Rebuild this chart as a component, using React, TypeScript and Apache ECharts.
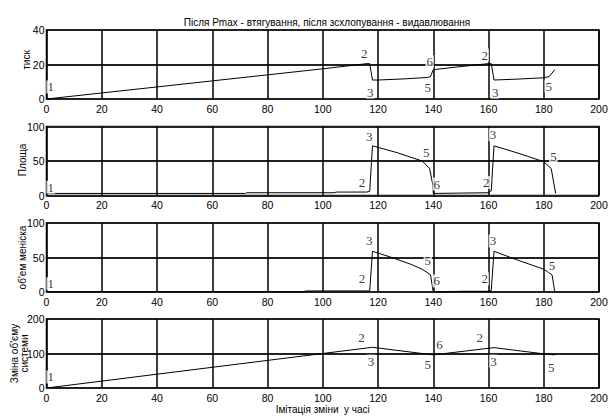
import React, { useEffect, useRef } from "react";
import * as echarts from "echarts";

const titleText = "Після Pmax - втягування, після зсхлопування - видавлювання";
const xAxisTitle = "Імітація зміни  у часі";
const yNames = ["тиск", "Площа", "об'ем меніска", "Зміна об'єму\nсистеми"];
const yMax = [40, 100, 100, 200];
const yStep = [20, 50, 50, 100];

const pressure = [
  [0, 0], [20, 3.5], [40, 7], [60, 10.5], [80, 14], [100, 17.5], [116, 20.5], [117, 20.5],
  [118, 11], [120, 11], [130, 11.7], [138, 12.5], [139, 13], [140, 17], [150, 18.8],
  [160, 20.5], [161, 20.5], [162, 11], [170, 11.5], [180, 12.3], [182, 13], [184, 17],
];
const area = [
  [0, 3], [72, 3], [72.5, 4], [104, 4], [105, 5], [116, 5], [117, 6], [118, 72],
  [127, 62], [136, 50], [138.7, 39], [139.9, 14], [140, 3], [150, 3.5], [160, 4],
  [161, 7], [162, 72], [171, 61], [180, 49], [182.7, 39], [184.3, 3],
];
const meniscus = [
  [0, 0.5], [93, 0.5], [94, 1.5], [117, 1.5], [118, 59], [125, 50], [132, 40],
  [136, 33], [139, 25], [140, 0], [150, 1], [160, 1], [161, 2], [162, 59],
  [170, 47], [180, 33], [183, 25], [184, 0],
];
const systemVol = [
  [0, 0], [118, 118], [140, 96], [162, 117], [180, 99], [184, 96],
];

const labels1 = [
  [1.5, 7, "1"], [115, 26.5, "2"], [117.2, 4, "3"], [138.7, 21.6, "6"], [138, 6.5, "5"],
  [158.6, 25.5, "2"], [162.4, 4, "3"], [181.8, 7.5, "5"],
];
const labels2 = [
  [1.5, 12, "1"], [114.2, 19.5, "2"], [116.8, 86, "3"], [137.5, 62, "5"], [141.3, 16.6, "6"],
  [159.2, 19, "2"], [161.6, 88, "3"], [183.5, 56, "5"],
];
const labels3 = [
  [1.5, 12, "1"], [114.2, 19, "2"], [116.8, 74, "3"], [138, 45, "5"], [141.3, 16, "6"],
  [158.6, 19, "2"], [161.6, 74, "3"], [183, 38, "5"],
];
const labels4 = [
  [1.5, 32, "1"], [114, 146, "2"], [117.5, 78, "3"], [138, 69, "5"], [142.3, 127, "6"],
  [156.8, 146, "2"], [161.8, 78, "3"], [182.7, 59, "5"],
];

const seriesData = [pressure, area, meniscus, systemVol];
const labelData = [labels1, labels2, labels3, labels4];

const tickFont = "'Liberation Sans Narrow', 'Liberation Sans', Arial, sans-serif";
const sans = "'Liberation Sans', Arial, sans-serif";
const serif = "'Liberation Serif', 'DejaVu Serif', 'Times New Roman', serif";

export default function App() {
  const ref = useRef<HTMLDivElement>(null);
  useEffect(() => {
    if (!ref.current) return;
    const chart = echarts.init(ref.current, null, { renderer: "svg" });
    const tops = [30, 126.5, 223, 319];
    const nameX = [26, 22, 22, 19];
    const nameY = [60, 160, 257.5, 353.5];
    const grids = tops.map((t) => ({
      left: 46.5,
      right: 10,
      top: t,
      height: 69,
      containLabel: false,
      outerBoundsMode: "none",
      show: true,
      borderColor: "#000",
      borderWidth: 1.5,
      backgroundColor: "transparent",
    }));
    const xAxes = tops.map((_, i) => ({
      type: "value",
      gridIndex: i,
      min: 0,
      max: 200,
      interval: 20,
      axisLine: { show: false },
      axisTick: { show: false },
      axisLabel: { fontSize: 10.5, color: "#000", fontFamily: tickFont, margin: 4 },
      splitLine: { show: true, lineStyle: { color: "#000", width: 1.5 } },
      name: i === 3 ? xAxisTitle : "",
      nameLocation: "middle",
      nameGap: 16,
      nameTextStyle: { fontSize: 10, color: "#000", fontFamily: tickFont },
    }));
    const yAxes = tops.map((_, i) => ({
      type: "value",
      gridIndex: i,
      min: 0,
      max: yMax[i],
      interval: yStep[i],
      axisLine: { show: false },
      axisTick: { show: false },
      axisLabel: { fontSize: 10.5, color: "#000", fontFamily: tickFont, margin: 2 },
      splitLine: { show: true, lineStyle: { color: "#222", width: 1.8 } },
    }));
    const series: any[] = [];
    seriesData.forEach((d, i) => {
      series.push({
        type: "line",
        xAxisIndex: i,
        yAxisIndex: i,
        data: d,
        showSymbol: false,
        symbol: "none",
        lineStyle: { color: "#000", width: 1 },
        z: 5,
      });
    });
    labelData.forEach((d, i) => {
      series.push({
        type: "scatter",
        xAxisIndex: i,
        yAxisIndex: i,
        data: d,
        symbolSize: 1,
        itemStyle: { color: "rgba(255,255,255,0)" },
        z: 10,
        label: {
          show: true,
          position: "inside",
          formatter: (p: any) => p.value[2],
          fontFamily: serif,
          fontSize: 13,
          color: "#000",
          textBorderWidth: 0,
          textBorderColor: "rgba(0,0,0,0)",
          backgroundColor: "#fff",
          padding: [0, 1],
        },
      });
    });
    const nameGraphics = yNames.map((n, i) => ({
      type: "text",
      x: nameX[i],
      y: nameY[i],
      rotation: Math.PI / 2,
      style: {
        text: n,
        fill: "#000",
        font: `10px ${sans}`,
        align: "center",
        verticalAlign: "middle",
        lineHeight: 10,
      },
    }));
    chart.setOption({
      animation: false,
      backgroundColor: "#fff",
      title: {
        text: titleText,
        left: 322,
        textAlign: "center",
        top: 12,
        textStyle: { fontSize: 10, fontWeight: "normal", color: "#000", fontFamily: tickFont },
      },
      grid: grids,
      xAxis: xAxes,
      yAxis: yAxes,
      graphic: nameGraphics,
      series,
    });
    return () => chart.dispose();
  }, []);
  return (
    <div
      ref={ref}
      style={{ position: "fixed", left: 0, top: 0, width: 609, height: 417, background: "#fff" }}
    />
  );
}
